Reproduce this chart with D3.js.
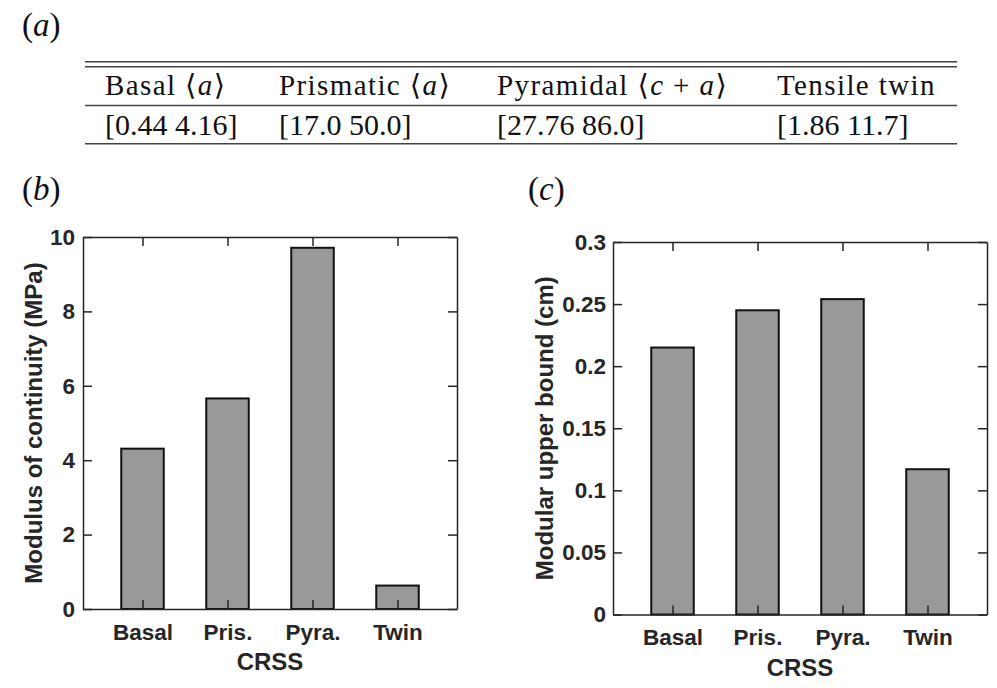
<!DOCTYPE html>
<html>
<head>
<meta charset="utf-8">
<script src="https://cdn.jsdelivr.net/npm/d3@7"></script>
<style>
  body { margin: 0; background: #fff; }
  svg { display: block; }
</style>
</head>
<body>
<svg width="997" height="688"></svg>
<script>
// dati della tabella (a)
const tableHeaders = [
  [["Basal ", ""], ["⟨", ""], ["a", "i"], ["⟩", ""]],
  [["Prismatic ", ""], ["⟨", ""], ["a", "i"], ["⟩", ""]],
  [["Pyramidal ", ""], ["⟨", ""], ["c", "i"], [" + ", ""], ["a", "i"], ["⟩", ""]],
  [["Tensile twin", ""]]
];
const tableRanges = ["[0.44 4.16]", "[17.0 50.0]", "[27.76 86.0]", "[1.86 11.7]"];

// dati dei grafici (b) e (c)
const categories = ["Basal", "Pris.", "Pyra.", "Twin"];
const modulusValues = [4.31, 5.66, 9.71, 0.63];
const upperBoundValues = [0.215, 0.245, 0.254, 0.117];
const modulusTicks = [0, 2, 4, 6, 8, 10];
const upperBoundTicks = [0, 0.05, 0.1, 0.15, 0.2, 0.25, 0.3];

const svg = d3.select("svg");
const axisColor = "#262626";

// etichette dei pannelli
const panelLabels = [
  { t: "a", x: 22, y: 36 },
  { t: "b", x: 22, y: 200 },
  { t: "c", x: 528, y: 200 }
];
panelLabels.forEach(p => {
  const txt = svg.append("text")
    .attr("x", p.x).attr("y", p.y)
    .style("font-family", "'Liberation Serif', serif")
    .attr("font-size", 33)
    .attr("fill", "#111");
  txt.append("tspan").text("(");
  txt.append("tspan").attr("font-style", "italic").text(p.t);
  txt.append("tspan").text(")");
});

// tabella
const colX = [105, 279, 497, 777];
const tableLeft = 85, tableRight = 957;
[61.7, 66.7, 105.5, 143.7].forEach(y => {
  svg.append("line")
    .attr("x1", tableLeft).attr("x2", tableRight)
    .attr("y1", y).attr("y2", y)
    .attr("stroke", "#444")
    .attr("stroke-width", 1.6);
});

const header = svg.append("g").attr("class", "table-header");
tableHeaders.forEach((parts, i) => {
  const txt = header.append("text")
    .attr("x", colX[i]).attr("y", 95)
    .style("font-family", "'Liberation Serif', 'DejaVu Serif', serif")
    .attr("font-size", 29)
    .attr("letter-spacing", 1.4)
    .attr("fill", "#111")
    .attr("xml:space", "preserve");
  parts.forEach(([s, st]) => {
    txt.append("tspan")
      .attr("font-style", st === "i" ? "italic" : "normal")
      .text(s);
  });
});

svg.append("g").selectAll("text")
  .data(tableRanges)
  .join("text")
  .attr("x", (d, i) => colX[i])
  .attr("y", 135)
  .style("font-family", "'Liberation Serif', serif")
  .attr("font-size", 30)
  .attr("fill", "#111")
  .text(d => d);

// funzione per disegnare un grafico a barre
function drawBars(opt) {
  const x = d3.scalePoint()
    .domain(categories)
    .range([opt.left, opt.right])
    .padding(0.7);
  const y = d3.scaleLinear()
    .domain(opt.domain)
    .range([opt.bottom, opt.top]);
  const bw = x.step() * 0.5;

  const g = svg.append("g");

  // barre
  g.selectAll("rect")
    .data(opt.values)
    .join("rect")
    .attr("x", (d, i) => x(categories[i]) - bw / 2)
    .attr("y", d => y(d))
    .attr("width", bw)
    .attr("height", d => y(opt.domain[0]) - y(d))
    .attr("fill", "#999999")
    .attr("stroke", "#111")
    .attr("stroke-width", 2);

  const styleAxis = sel => {
    sel.selectAll("path, line").attr("stroke", axisColor).attr("stroke-width", 1.5);
    sel.selectAll("text")
      .attr("fill", axisColor)
      .attr("font-family", "Liberation Sans, Arial, sans-serif")
      .attr("font-weight", "bold")
      .attr("font-size", 22.5);
  };

  g.append("g")
    .attr("transform", `translate(${opt.left},0)`)
    .call(d3.axisLeft(y).tickValues(opt.ticks).tickFormat(d3.format("~g"))
      .tickSizeInner(-9).tickSizeOuter(0).tickPadding(opt.pad))
    .call(styleAxis);

  g.append("g")
    .attr("transform", `translate(${opt.right},0)`)
    .call(d3.axisRight(y).tickValues(opt.ticks).tickFormat("")
      .tickSizeInner(-9).tickSizeOuter(0))
    .call(styleAxis);

  g.append("g")
    .attr("transform", `translate(0,${opt.bottom})`)
    .call(d3.axisBottom(x).tickSizeInner(-9).tickSizeOuter(0).tickPadding(15))
    .call(styleAxis);

  g.append("g")
    .attr("transform", `translate(0,${opt.top})`)
    .call(d3.axisTop(x).tickFormat("").tickSizeInner(-9).tickSizeOuter(0))
    .call(styleAxis);

  g.selectAll(".domain").attr("fill", "none");

  // etichette degli assi
  g.append("text")
    .attr("x", (opt.left + opt.right) / 2)
    .attr("y", opt.bottom + 61)
    .attr("text-anchor", "middle")
    .attr("font-family", "Liberation Sans, Arial, sans-serif")
    .attr("font-weight", "bold")
    .attr("font-size", 24)
    .attr("fill", axisColor)
    .text("CRSS");

  g.append("text")
    .attr("transform", `translate(${opt.ylabelX},${(opt.top + opt.bottom) / 2}) rotate(-90)`)
    .attr("text-anchor", "middle")
    .attr("font-family", "Liberation Sans, Arial, sans-serif")
    .attr("font-weight", "bold")
    .attr("font-size", 24)
    .attr("fill", axisColor)
    .text(opt.ylabel);
}

drawBars({
  values: modulusValues, domain: [0, 10], ticks: modulusTicks,
  left: 83, right: 457, top: 237, bottom: 609, pad: 8,
  ylabelX: 42, ylabel: "Modulus of continuity (MPa)"
});

drawBars({
  values: upperBoundValues, domain: [0, 0.3], ticks: upperBoundTicks,
  left: 613, right: 987, top: 242, bottom: 614.5, pad: 7,
  ylabelX: 553, ylabel: "Modular upper bound (cm)"
});
</script>
</body>
</html>
